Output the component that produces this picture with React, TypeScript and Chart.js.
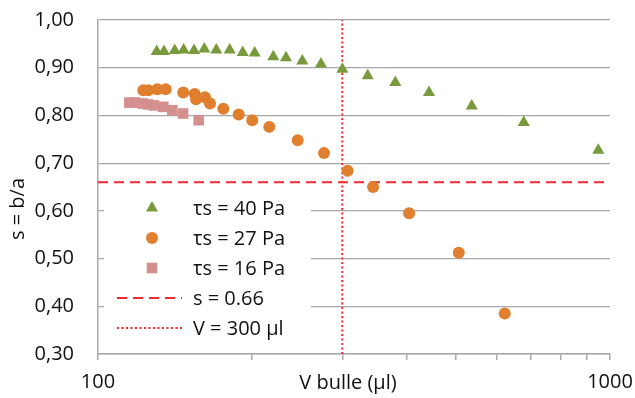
import React, { useEffect, useRef } from 'react';
import { Chart, registerables } from 'chart.js';

Chart.register(...registerables);

// ---- Data ----
const v40 = [130.2, 134.5, 141.2, 147.0, 154.0, 161.3, 170.2, 180.8, 191.7, 202.3, 220.0, 232.9, 250.6, 272.6, 300.1, 336.4, 380.8, 443.1, 537, 678.5, 948.7];
const s40 = [0.934, 0.934, 0.936, 0.937, 0.936, 0.939, 0.937, 0.937, 0.932, 0.931, 0.923, 0.921, 0.914, 0.908, 0.897, 0.883, 0.869, 0.848, 0.820, 0.785, 0.727];
const v27 = [122.6, 125.4, 130.6, 135.6, 146.7, 154.5, 155.4, 161.8, 165.5, 175.7, 188.3, 200.1, 216.1, 245.5, 276.3, 307.2, 344.5, 405.1, 506.5, 622.9];
const s27 = [0.853, 0.853, 0.855, 0.855, 0.848, 0.845, 0.834, 0.838, 0.825, 0.814, 0.802, 0.790, 0.776, 0.748, 0.721, 0.684, 0.650, 0.595, 0.512, 0.385];
const v16 = [115.1, 118.3, 122.3, 125.4, 128.6, 134.1, 139.7, 146.6, 157.3];
const s16 = [0.827, 0.827, 0.825, 0.823, 0.821, 0.818, 0.811, 0.804, 0.790];
const sLine = 0.66;
const vLine = 300;
const xRange = [100, 1000];
const yRange = [0.3, 1.0];
const xTickValues = [100, 200, 300, 400, 500, 600, 700, 800, 900, 1000];
const xLabelTicks = [100, 1000];
const seriesLabels = ['τs = 40 Pa', 'τs = 27 Pa', 'τs = 16 Pa', 's = 0.66', 'V = 300 µl'];
const xTitle = 'V bulle (µl)';
const yTitle = 's = b/a';

const FONT = '"Open Sans", "Noto Sans", sans-serif';
const GREEN = '#789a3c';
const ORANGE = '#e07f2d';
const PINK = '#d4908f';
const RED = '#ee2a2a';
const GRID = '#a8a8a8';

const zip = (xs: number[], ys: number[]) => xs.map((x, i) => ({ x, y: ys[i] }));

function drawMarker(ctx: CanvasRenderingContext2D, style: string, x: number, y: number, r: number, color: string) {
  ctx.fillStyle = color;
  ctx.beginPath();
  if (style === 'triangle') {
    let rad = 0;
    ctx.moveTo(x + Math.sin(rad) * r, y - Math.cos(rad) * r);
    rad += (2 * Math.PI) / 3;
    ctx.lineTo(x + Math.sin(rad) * r, y - Math.cos(rad) * r);
    rad += (2 * Math.PI) / 3;
    ctx.lineTo(x + Math.sin(rad) * r, y - Math.cos(rad) * r);
    ctx.closePath();
  } else if (style === 'rect') {
    const s = r * Math.SQRT1_2;
    ctx.rect(x - s, y - s, 2 * s, 2 * s);
  } else {
    ctx.arc(x, y, r, 0, Math.PI * 2);
  }
  ctx.fill();
}

const overlayPlugin = {
  id: 'overlay',
  afterDraw(chart: any) {
    const ctx: CanvasRenderingContext2D = chart.ctx;
    const a = chart.chartArea;
    ctx.save();
    // legend box
    const bx = a.left + 6;
    const by = a.top + 171;
    const bw = 207;
    const bh = 158;
    ctx.fillStyle = '#ffffff';
    ctx.fillRect(bx, by, bw, bh);
    const rowH = 30;
    const markerX = bx + 48;
    const textX = bx + 89;
    ctx.font = `20px ${FONT}`;
    ctx.textBaseline = 'middle';
    ctx.textAlign = 'left';
    chart.data.datasets.forEach((ds: any, i: number) => {
      const y = by + 17 + i * rowH;
      if (ds.legendKind === 'point') {
        drawMarker(ctx, ds.pointStyle, markerX, y, ds.pointRadius, ds.backgroundColor);
      } else {
        ctx.strokeStyle = ds.borderColor;
        ctx.lineWidth = ds.borderWidth;
        ctx.setLineDash(ds.borderDash);
        ctx.beginPath();
        ctx.moveTo(bx + 13, y);
        ctx.lineTo(bx + 78, y);
        ctx.stroke();
        ctx.setLineDash([]);
      }
      ctx.fillStyle = '#111111';
      ctx.fillText(ds.label, textX, y + 1);
    });
    // axis titles
    ctx.fillStyle = '#111111';
    ctx.textAlign = 'center';
    ctx.textBaseline = 'middle';
    ctx.fillText(xTitle, (a.left + a.right) / 2 - 6, chart.height - 15);
    ctx.translate(18, (a.top + a.bottom) / 2 + 22);
    ctx.rotate(-Math.PI / 2);
    ctx.fillText(yTitle, 0, 0);
    ctx.restore();
  },
};

export default function App() {
  const canvasRef = useRef<HTMLCanvasElement | null>(null);

  useEffect(() => {
    document.body.style.margin = '0';
    const canvas = canvasRef.current;
    if (!canvas) return;
    const chart = new Chart(canvas, {
      type: 'scatter',
      data: {
        datasets: [
          {
            label: seriesLabels[0],
            data: zip(v40, s40),
            pointStyle: 'triangle',
            pointRadius: 7,
            backgroundColor: GREEN,
            borderColor: GREEN,
            pointBorderWidth: 0,
            order: 0,
            legendKind: 'point',
          } as any,
          {
            label: seriesLabels[1],
            data: zip(v27, s27),
            pointStyle: 'circle',
            pointRadius: 6,
            backgroundColor: ORANGE,
            borderColor: ORANGE,
            pointBorderWidth: 0,
            order: 0,
            legendKind: 'point',
          } as any,
          {
            label: seriesLabels[2],
            data: zip(v16, s16),
            pointStyle: 'rect',
            pointRadius: 7.5,
            backgroundColor: PINK,
            borderColor: PINK,
            pointBorderWidth: 0,
            order: 0,
            legendKind: 'point',
          } as any,
          {
            label: seriesLabels[3],
            data: [
              { x: xRange[0], y: sLine },
              { x: xRange[1], y: sLine },
            ],
            showLine: true,
            borderColor: RED,
            borderWidth: 2,
            borderDash: [10, 6],
            pointRadius: 0,
            order: 10,
            legendKind: 'line',
          } as any,
          {
            label: seriesLabels[4],
            data: [
              { x: vLine, y: yRange[0] },
              { x: vLine, y: yRange[1] },
            ],
            showLine: true,
            borderColor: RED,
            borderWidth: 2,
            borderDash: [2, 2.5],
            pointRadius: 0,
            order: 10,
            legendKind: 'line',
          } as any,
        ],
      },
      options: {
        animation: false,
        responsive: true,
        maintainAspectRatio: false,
        layout: { padding: { top: 20, right: 25, left: 0, bottom: 0 } },
        plugins: {
          legend: { display: false },
          tooltip: { enabled: false },
        },
        scales: {
          x: {
            type: 'logarithmic',
            min: xRange[0],
            max: xRange[1],
            afterBuildTicks: (scale: any) => {
              scale.ticks = xTickValues.map((v) => ({ value: v }));
            },
            afterFit: (scale: any) => {
              scale.height = 44;
              scale.paddingLeft = 0;
              scale.paddingRight = 0;
              scale.paddingTop = 0;
              scale.paddingBottom = 0;
            },
            grid: {
              drawOnChartArea: false,
              drawTicks: true,
              tickLength: 6,
              color: GRID,
              lineWidth: 1.5,
            },
            border: { display: true, color: GRID, width: 1.5 },
            ticks: {
              autoSkip: false,
              maxRotation: 0,
              padding: 10,
              color: '#111111',
              font: { family: FONT, size: 20 },
              callback: (v: any) => (xLabelTicks.includes(Number(v)) ? String(v) : ''),
            },
          },
          y: {
            min: yRange[0],
            max: yRange[1],
            afterFit: (scale: any) => {
              scale.width = 98;
              scale.paddingLeft = 0;
              scale.paddingRight = 0;
              scale.paddingTop = 0;
              scale.paddingBottom = 0;
            },
            grid: {
              drawTicks: false,
              color: GRID,
              lineWidth: 1.25,
            },
            border: { display: true, color: GRID, width: 1.5 },
            ticks: {
              stepSize: 0.1,
              padding: 24,
              color: '#111111',
              font: { family: FONT, size: 20 },
              callback: (v: any) => Number(v).toFixed(2).replace('.', ','),
            },
          },
        },
      } as any,
      plugins: [overlayPlugin],
    });
    return () => chart.destroy();
  }, []);

  return (
    <div style={{ width: 635, height: 398, position: 'relative', background: '#fff' }}>
      <canvas ref={canvasRef} />
    </div>
  );
}
